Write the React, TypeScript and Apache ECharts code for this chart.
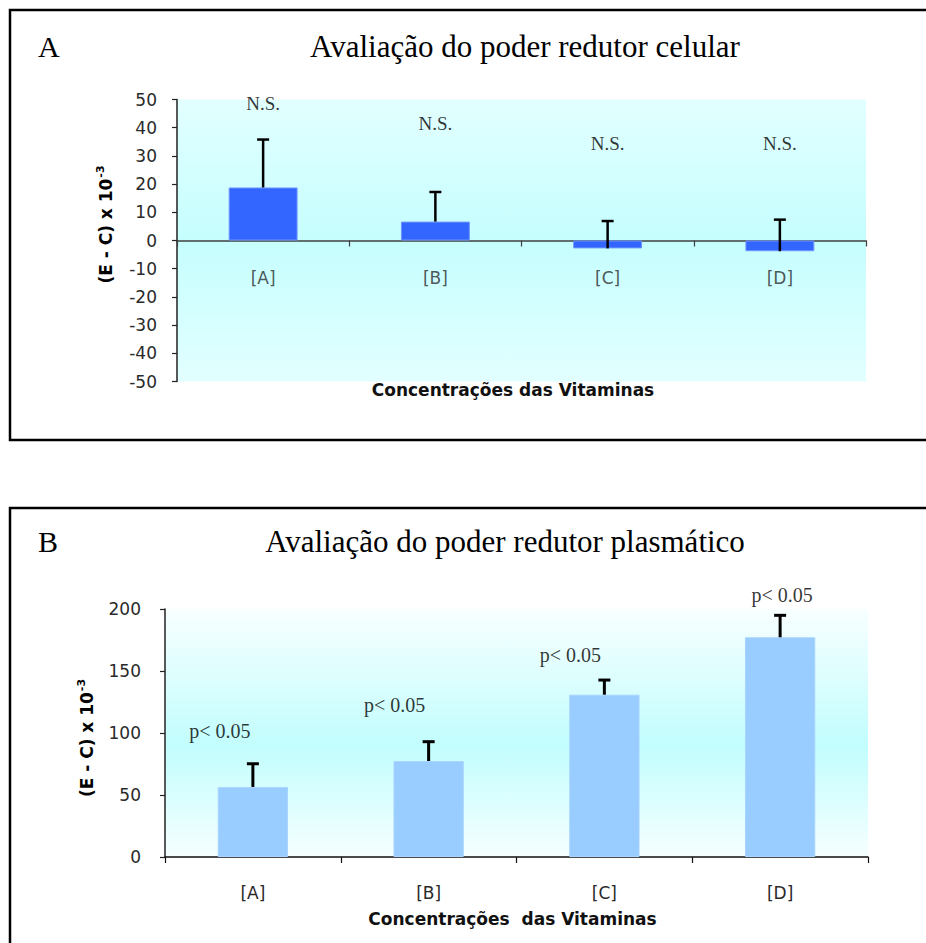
import React, { useEffect, useRef } from "react";
import * as echarts from "echarts";

const categories = ["[A]", "[B]", "[C]", "[D]"];

const cellValues = [18.8, 6.7, -2.8, -3.8];
const cellErrors = [17.0, 10.5, 9.7, 11.2];
const cellLabelY = [48.5, 41.4, 34.3, 34.3];
const cellLabels = ["N.S.", "N.S.", "N.S.", "N.S."];
const cellAxis = { min: -50, max: 50, interval: 10 };

const plasmaValues = [56.5, 77.4, 130.9, 177.2];
const plasmaErrors = [18.7, 15.6, 11.8, 17.7];
const plasmaLabelY = [101.9, 122.6, 162.9, 211.3];
const plasmaLabels = ["p< 0.05", "p< 0.05", "p< 0.05", "p< 0.05"];
const plasmaAxis = { min: 0, max: 200, interval: 50 };

const titleA = "Avaliação do poder redutor celular";
const titleB = "Avaliação do poder redutor plasmático";
const xNameA = "Concentrações das Vitaminas";
const xNameB = "Concentrações  das Vitaminas";
const yName = "{a|(E - C) x 10}{b|-3}";

// label horizontal offsets (layout)
const plasmaLabelDx = [-33, -34, -34, 2];

const SANS = "DejaVu Sans";
const SERIF = "Liberation Serif";

function errorRenderer(lineWidth: number, capHalf: number) {
  return (params: any, api: any) => {
    const base = api.coord([api.value(0), api.value(1)]);
    const top = api.coord([api.value(0), api.value(2)]);
    const style = { stroke: "#000", lineWidth };
    return {
      type: "group",
      children: [
        { type: "line", shape: { x1: base[0], y1: base[1], x2: top[0], y2: top[1] }, style },
        { type: "line", shape: { x1: top[0] - capHalf, y1: top[1], x2: top[0] + capHalf, y2: top[1] }, style },
      ],
    };
  };
}

function yAxisCommon(gridIndex: number, ax: any, margin: number, nameGap: number, namePad: number[]) {
  return {
    type: "value",
    gridIndex,
    min: ax.min,
    max: ax.max,
    interval: ax.interval,
    name: yName,
    nameLocation: "middle",
    nameGap,
    nameRotate: 90,
    nameTextStyle: {
      padding: namePad,
      rich: {
        a: { fontFamily: SANS, fontWeight: "bold", fontSize: 17, color: "#000" },
        b: { fontFamily: SANS, fontWeight: "bold", fontSize: 11, color: "#000", padding: [0, 0, 10, 1] },
      },
    },
    axisLine: { show: true, lineStyle: { color: "#222", width: 1.5 } },
    axisTick: { show: true, length: 5, lineStyle: { color: "#222", width: 1.2 } },
    splitLine: { show: false },
    axisLabel: { fontFamily: SANS, fontSize: 17, color: "#2a2a2a", margin },
  };
}

export default function App() {
  const ref = useRef<HTMLDivElement>(null);
  useEffect(() => {
    if (!ref.current) return;
    const chart = echarts.init(ref.current, null, { renderer: "svg" });

    const gradA = {
      type: "linear", x: 0, y: 0, x2: 0, y2: 1,
      colorStops: [
        { offset: 0, color: "#e2ffff" },
        { offset: 0.5, color: "#c6fefe" },
        { offset: 1, color: "#e2ffff" },
      ],
    };
    const gradB = {
      type: "linear", x: 0, y: 0, x2: 0, y2: 1,
      colorStops: [
        { offset: 0, color: "#f8ffff" },
        { offset: 0.55, color: "#c2fdfd" },
        { offset: 1, color: "#f6ffff" },
      ],
    };

    const option: any = {
      animation: false,
      backgroundColor: "#fff",
      graphic: [
        { type: "rect", shape: { x: 10, y: 10, width: 940, height: 430 }, style: { fill: "none", stroke: "#000", lineWidth: 2.5 } },
        { type: "rect", shape: { x: 10, y: 508, width: 940, height: 460 }, style: { fill: "none", stroke: "#000", lineWidth: 2.5 } },
        { type: "text", x: 38, y: 46, style: { text: "A", font: `30px "${SERIF}"`, fill: "#000", textVerticalAlign: "middle" } },
        { type: "text", x: 525, y: 46, style: { text: titleA, font: `31px "${SERIF}"`, fill: "#000", textAlign: "center", textVerticalAlign: "middle" } },
        { type: "text", x: 38, y: 541, style: { text: "B", font: `30px "${SERIF}"`, fill: "#000", textVerticalAlign: "middle" } },
        { type: "text", x: 505, y: 541, style: { text: titleB, font: `31px "${SERIF}"`, fill: "#000", textAlign: "center", textVerticalAlign: "middle" } },
        { type: "text", x: 513, y: 390, style: { text: xNameA, font: `bold 17px "${SANS}"`, fill: "#111", textAlign: "center", textVerticalAlign: "middle" } },
      ],
      grid: [
        { left: 177, top: 99.5, width: 689, height: 282, show: true, borderWidth: 0, backgroundColor: gradA },
        { left: 165, top: 609, width: 703, height: 248, show: true, borderWidth: 0, backgroundColor: gradB },
      ],
      xAxis: [
        {
          type: "category",
          gridIndex: 0,
          data: categories,
          axisLine: { onZero: true, lineStyle: { color: "#404040", width: 1.5 } },
          axisTick: { show: true, length: 6, lineStyle: { color: "#404040", width: 1.2 } },
          axisLabel: { show: false },
        },
        {
          type: "category",
          gridIndex: 1,
          data: categories,
          axisLine: { onZero: true, lineStyle: { color: "#111", width: 1.5 } },
          axisTick: { show: true, length: 6, lineStyle: { color: "#111", width: 1.2 } },
          axisLabel: { fontFamily: SANS, fontSize: 17, color: "#2a2a2a", margin: 27 },
          name: xNameB,
          nameLocation: "middle",
          nameGap: 53,
          nameTextStyle: { fontFamily: SANS, fontWeight: "bold", fontSize: 17, color: "#111", padding: [0, 8, 0, 0] },
        },
      ],
      yAxis: [
        yAxisCommon(0, cellAxis, 20, 61, [0, 0, 0, 32]),
        yAxisCommon(1, plasmaAxis, 24, 68, [0, 10, 0, 0]),
      ],
      series: [
        {
          type: "bar",
          xAxisIndex: 0,
          yAxisIndex: 0,
          data: cellValues,
          barWidth: "40%",
          itemStyle: { color: "#3366ff", borderColor: "#6f94ff", borderWidth: 1 },
        },
        {
          type: "custom",
          xAxisIndex: 0,
          yAxisIndex: 0,
          data: cellValues.map((v, i) => [i, v, v + cellErrors[i]]),
          encode: { x: 0, y: [1, 2] },
          renderItem: errorRenderer(2.5, 6),
          z: 5,
        },
        {
          type: "scatter",
          xAxisIndex: 0,
          yAxisIndex: 0,
          symbolSize: 0,
          clip: false,
          data: cellLabelY.map((y, i) => ({ value: [i, y], label: { formatter: cellLabels[i] } })),
          label: { show: true, position: "inside", fontFamily: SERIF, fontSize: 19, color: "#000" },
          z: 6,
        },
        {
          // category labels of the top chart, anchored on the zero line
          type: "scatter",
          xAxisIndex: 0,
          yAxisIndex: 0,
          symbolSize: 0,
          clip: false,
          silent: true,
          data: categories.map((c, i) => ({ value: [i, 0], label: { formatter: c } })),
          label: { show: true, position: "inside", offset: [0, 37], fontFamily: SANS, fontSize: 17, color: "#2a2a2a" },
          z: 6,
        },
        {
          type: "bar",
          xAxisIndex: 1,
          yAxisIndex: 1,
          data: plasmaValues,
          barWidth: "40%",
          itemStyle: { color: "#99ccff", borderColor: "#a8d4ff", borderWidth: 1 },
        },
        {
          type: "custom",
          xAxisIndex: 1,
          yAxisIndex: 1,
          data: plasmaValues.map((v, i) => [i, v, v + plasmaErrors[i]]),
          encode: { x: 0, y: [1, 2] },
          renderItem: errorRenderer(3, 6),
          z: 5,
        },
        {
          type: "scatter",
          xAxisIndex: 1,
          yAxisIndex: 1,
          symbolSize: 0,
          clip: false,
          data: plasmaLabelY.map((y, i) => ({
            value: [i, y],
            label: { formatter: plasmaLabels[i], offset: [plasmaLabelDx[i], 0] },
          })),
          label: { show: true, position: "inside", fontFamily: SERIF, fontSize: 20, color: "#000" },
          z: 6,
        },
      ],
    };
    chart.setOption(option);
    return () => chart.dispose();
  }, []);
  return <div ref={ref} style={{ position: "absolute", left: 0, top: 0, width: 926, height: 943 }} />;
}
